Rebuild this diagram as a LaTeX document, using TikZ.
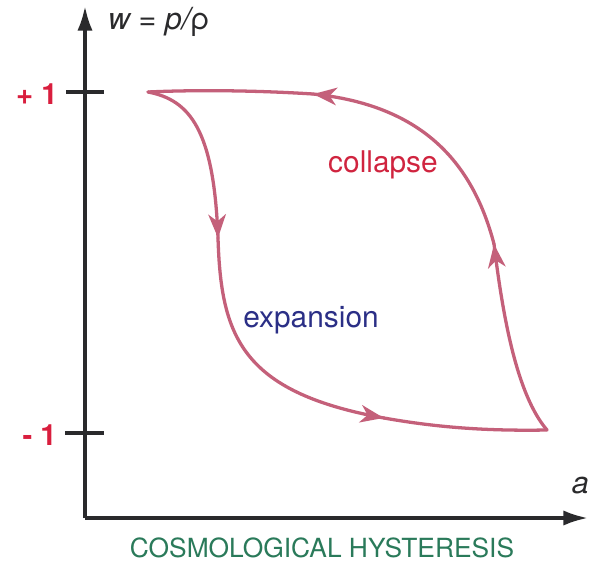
\documentclass[tikz,border=0pt]{standalone}
\usepackage{fontspec}
\setmainfont{TeX Gyre Heros}
\usepackage{tikz}
\usetikzlibrary{arrows.meta, positioning, decorations.markings}
\definecolor{axisInk}{HTML}{2A2A2C}
\definecolor{loopRose}{HTML}{C4607A}
\definecolor{tickRed}{HTML}{D91E3E}
\definecolor{collapseRed}{HTML}{D0243F}
\definecolor{expansionNavy}{HTML}{2B2F86}
\definecolor{titleGreen}{HTML}{2A7A5A}

\begin{document}
\begin{tikzpicture}[
    x=0.03cm, y=-0.03cm,
    axis/.style={draw=axisInk, line width=2.9pt, -{Latex[length=21pt, width=13pt]}},
    tickmark/.style={draw=axisInk, line width=2.6pt},
    ticklabel/.style={font=\fontsize{25}{30}\selectfont\bfseries, text=tickRed, anchor=east, inner sep=0pt},
    axislabel/.style={font=\fontsize{26}{30}\selectfont\itshape, text=axisInk, inner sep=0pt},
    branch/.style={draw=loopRose, line width=2.8pt, line join=round, line cap=round},
    flow/.style={branch, postaction={decorate}, decoration={markings,
        mark=at position 0.999 with {\arrow{Stealth[length=20pt, width=15pt, inset=6pt]}}}},
    phase/.style={font=\fontsize{25.5}{30}\selectfont, inner sep=0pt}
]
\useasboundingbox (0,0) rectangle (589,563);

% Axes
\coordinate (origin) at (85,518);
\coordinate (wtop) at (85,6);
\coordinate (aend) at (588,518);
\draw[axis] (origin) -- (wtop);
\draw[axis] (origin) -- (aend);

% Ticks at +1 and -1
\coordinate (plusL) at (66,92);
\coordinate (plusR) at (104,92);
\coordinate (minusL) at (65,433);
\coordinate (minusR) at (104,433);
\draw[tickmark] (plusL) -- (plusR);
\draw[tickmark] (minusL) -- (minusR);
\node[ticklabel] (plus) at (58,94) {+ 1};
\node[ticklabel] (minus) at (57,435) {- 1};

% Axis labels
\node[axislabel, anchor=west] (wlabel) at (108,22) {w = p/{\upshape ρ}};
\node[axislabel, anchor=east] (alabel) at (589,486) {a};

% Hysteresis loop
\coordinate (start) at (148,92);
\coordinate (down) at (218,238);
\coordinate (right) at (384,418);
\coordinate (corner) at (547,430);
\coordinate (up) at (494,244);
\coordinate (left) at (313,94);

\draw[flow] (start) .. controls (190,100) and (214,130) .. (down);
\draw[flow] (down) .. controls (221,335) and (240,392) .. (right);
\draw[branch] (right) .. controls (440,428) and (490,431) .. (corner);
\draw[flow] (corner) .. controls (517,395) and (503,318) .. (up);
\draw[flow] (up) .. controls (472,160) and (420,105) .. (left);
\draw[branch] (left) .. controls (250,90) and (190,90) .. (start);

% Phase labels
\node[phase, text=collapseRed] (collapse) at (383,165) {collapse};
\node[phase, text=expansionNavy] (expansion) at (311,320) {expansion};

% Title
\node[font=\fontsize{22.5}{27}\selectfont, text=titleGreen, inner sep=0pt] (title) at (322,548) {COSMOLOGICAL HYSTERESIS};

\end{tikzpicture}
\end{document}
